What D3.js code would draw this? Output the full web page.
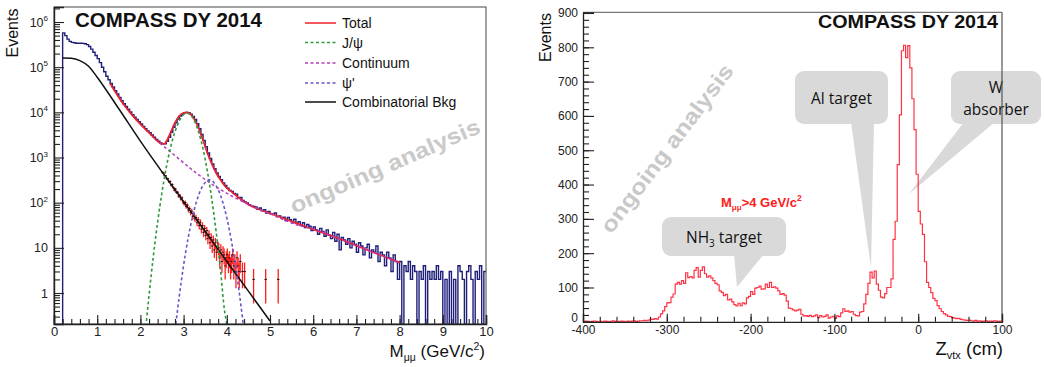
<!DOCTYPE html>
<html><head><meta charset="utf-8">
<script src="https://cdn.jsdelivr.net/npm/d3@7/dist/d3.min.js"></script>
<style>
body{margin:0;background:#fff;}
svg{display:block;font-family:"Liberation Sans",Arial,sans-serif;}
</style></head><body>
<svg id="c" width="1044" height="367"></svg>
<script>
// ---------------- LEFT PANEL DATA (M_mumu spectrum) ----------------
const massBinStart = 0.2, massBinWidth = 0.05;
const dataCounts = [
575000,500000,417000,372000,355000,347000,339000,339000,339000,336000,
331000,316000,288000,251000,214000,182000,155000,126000,100000,79400,
63100,52500,43600,36300,30200,25700,21400,18200,15500,13500,
11700,10200,8910,7760,6920,6170,5500,4900,4370,3890,
3550,3160,2820,2510,2290,2090,2000,2000,2290,2820,
3630,4680,5890,7080,8320,9120,9770,10000,9770,9120,
8130,6920,5620,4370,3240,2400,1740,1260,955,724,
562,457,380,324,275,240,209,186,
178,160,155,128,130,112,104,99,90,86,
83,80,71,76,66,70,59,64,57,55,
59,49,51,46,48,40,47,42,36,43,
35,38,31,36,28,33,30,24,29,25,
20,27,23,18,25,19,16,22,14,20,
9,17,15,12,16,10,14,12,8,13,
11,7,10,12,6,9,8,11,5,8,
7,4,8,6,3,7,5,2,
5,0,4,3,5,2,4,3,0,3,
2,4,0,3,2,3,2,4,2,3,
0,2,0,3,0,2,0,4,3,2,
0,3,4,2,0,3,2,4,0,3];

const likeSignStart = 2.5, likeSignWidth = 0.025;
const likeSignCounts = [
470,455,398,392,340,338,290,296,245,252,
215,190,201,168,170,139,146,121,128,104,
95,101,82,88,69,74,60,65,49,56,
44,47,36,42,31,37,26,31,22,27,
19,24,16,20,13,17,11,15,9,13,
8,11,10,6,9,5,8,7,4,6,
7,5,6,4,5,7,4,5,3,6,
4,3,5,0,3,0,3,0,0,0];
const likeSignExtraMass   = [4.62,4.9,5.19];
const likeSignExtraCounts = [2,2,2];

const bkgMass   = [0.2,0.4,0.6,0.8,1.0,1.5,2.0,2.5,3.0,3.5,4.0,4.5,5.0];
const bkgValues = [1.6e5,1.58e5,1.4e5,1.05e5,6.0e4,1.2e4,2300,480,105,23,5.0,1.1,0.24];

const totalMass   = [1.3,1.4,1.5,1.6,1.7,1.8,1.9,2.0,2.1,2.2,2.3,2.4,2.5,2.55,2.6,2.7,2.8,2.9,3.0,3.08,3.15,3.25,3.35,3.45,3.55,3.65,3.75,3.85,4.0,4.1,4.3,4.5,4.7,5.0,5.4,5.8,6.2,6.6,7.0,7.4,7.8,8.0];
const totalValues = [43600,30200,21400,15500,11700,8910,6920,5500,4370,3550,2820,2290,2000,1990,2250,3600,5900,8300,9770,10000,9300,7000,4400,2400,1260,730,460,325,210,178,123,91,74,58,42,30,22,16,11.2,7.9,5.6,4.7];

const jpsiMass   = [2.14,2.2,2.3,2.4,2.5,2.6,2.7,2.8,2.9,3.0,3.08,3.15,3.25,3.35,3.45,3.55,3.65,3.75,3.85,3.95,4.0];
const jpsiValues = [0.24,0.89,6.6,38,170,610,1700,3700,6500,8900,9550,8950,6500,3600,1550,500,125,24,3.5,0.39,0.12];

const contMass   = [2.45,2.8,3.3,3.7,4.07,4.5,5.0,5.6,6.0,7.0,8.0];
const contValues = [2090,1100,450,240,148,92,57,33,26,11.2,4.7];

const psi2Mass   = [2.82,2.9,3.0,3.1,3.2,3.3,3.4,3.5,3.6,3.7,3.8,3.9,4.0,4.1,4.2,4.3,4.38];
const psi2Values = [0.2,0.85,4.1,15.5,46,107,195,280,320,280,195,107,46,15.5,4.1,0.85,0.2];

const massTicks = [0,1,2,3,4,5,6,7,8,9,10];
const massTickLabels = ["0","1","2","3","4","5","6","7","8","9","10"];
const logTicks = [1,10,100,1e3,1e4,1e5,1e6];
const logTickBase = ["1","10","10","10","10","10","10"];
const logTickExp  = ["","","2","3","4","5","6"];

const legendLabels = ["Total","J/\u03c8","Continuum","\u03c8'","Combinatorial Bkg"];

// ---------------- RIGHT PANEL DATA (Z_vtx) ----------------
const zBinStart = -400, zBinWidth = 2.5;
const zCounts = [
1,2,1,0,1,2,1,0,1,0,2,1,0,1,3,1,0,1,2,1,0,2,1,2,3,1,2,3,
3,4,3,5,8,7,9,8,14,23,32,44,55,56,72,81,110,115,110,120,112,143,129,132,128,
150,158,130,150,160,140,130,134,128,120,112,108,90,86,76,80,64,66,58,50,46,54,47,55,52,70,74,88,80,98,100,104,95,96,110,100,115,100,102,98,90,80,82,78,
60,40,38,35,32,34,36,22,17,18,16,19,15,17,20,12,18,14,16,20,11,14,16,10,17,15,26,38,30,32,28,30,22,18,17,28,30,
52,80,112,145,128,148,110,92,72,70,82,100,100,
125,240,293,458,603,790,806,770,805,740,650,560,430,
322,285,255,175,115,100,85,68,62,47,38,30,24,20,16,15,12,11,9,10,7,6,5,4,5,3,2,4,2,3,1,2,3,1,2,1,3,2,1,2];

const zTicks = [-400,-300,-200,-100,0,100];
const zTickLabels = ["-400","-300","-200","-100","0","100"];
const eventTicks = [0,100,200,300,400,500,600,700,800,900];
const eventTickLabels = ["0","100","200","300","400","500","600","700","800","900"];

// ---------------- DRAWING ----------------
const svg = d3.select("#c");
const dark = "#222";

const xM = d3.scaleLinear().domain([0,10]).range([54,486]);
const yM = d3.scaleLog().domain([0.206,2.15e6]).range([324,7]).clamp(true);
const xZ = d3.scaleLinear().domain([-400,100]).range([583,1002]);
const yZ = d3.scaleLinear().domain([0,902]).range([321.8,12.3]);

const yLog = v => v > 0 ? yM(v) : yM.range()[0];

function histPts(start, w, vals){
  const p = [[start,0]];
  vals.forEach((v,i)=>p.push([start+i*w, v]));
  p.push([start+vals.length*w, vals[vals.length-1]]);
  return p;
}

svg.append("clipPath").attr("id","clipL").append("rect").attr("x",54).attr("y",7).attr("width",432).attr("height",317);
svg.append("clipPath").attr("id","clipR").append("rect").attr("x",583).attr("y",12).attr("width",419).attr("height",310);

// ===== LEFT =====
svg.append("text").attr("transform","translate(388,173) rotate(-23.5)")
  .attr("text-anchor","middle").attr("font-size",22).attr("font-weight","bold")
  .attr("fill","#c9c9c9").attr("textLength",205).attr("lengthAdjust","spacingAndGlyphs")
  .text("ongoing analysis");

const gL = svg.append("g").attr("clip-path","url(#clipL)");

gL.append("path")
  .attr("d", d3.line().x(d=>xM(d[0])).y(d=>yLog(d[1])).curve(d3.curveStepAfter)(histPts(massBinStart, massBinWidth, dataCounts)))
  .attr("fill","none").attr("stroke","#1f1f7a").attr("stroke-width",1.4);

function lsPoint(m, v){
  const e = Math.sqrt(v);
  gL.append("line").attr("x1",xM(m)).attr("x2",xM(m))
    .attr("y1",yLog(v+e)).attr("y2",yLog(Math.max(v-e,0.0001)))
    .attr("stroke","#ff1e1e").attr("stroke-width",1.3);
  gL.append("line").attr("x1",xM(m)-1.2).attr("x2",xM(m)+1.2)
    .attr("y1",yLog(v)).attr("y2",yLog(v)).attr("stroke","#111").attr("stroke-width",1);
}
likeSignCounts.forEach((v,i)=>{ if(v>0) lsPoint(likeSignStart + (i+0.5)*likeSignWidth, v); });
likeSignExtraMass.forEach((m,i)=>lsPoint(m, likeSignExtraCounts[i]));

const curveLine = d3.line().x(d=>xM(d[0])).y(d=>yLog(d[1])).curve(d3.curveMonotoneX);
const zipPts = (a,b)=>a.map((m,i)=>[m,b[i]]);

gL.append("path").attr("d",curveLine(zipPts(bkgMass,bkgValues)))
  .attr("fill","none").attr("stroke","#111").attr("stroke-width",1.5);
gL.append("path").attr("d",curveLine(zipPts(totalMass,totalValues)))
  .attr("fill","none").attr("stroke","#f0202a").attr("stroke-width",1.7);
gL.append("path").attr("d",curveLine(zipPts(contMass,contValues)))
  .attr("fill","none").attr("stroke","#b13ec0").attr("stroke-width",1.5).attr("stroke-dasharray","3,2.5");
gL.append("path").attr("d",curveLine(zipPts(jpsiMass,jpsiValues)))
  .attr("fill","none").attr("stroke","#2f9a3a").attr("stroke-width",1.6).attr("stroke-dasharray","3,2.5");
gL.append("path").attr("d",curveLine(zipPts(psi2Mass,psi2Values)))
  .attr("fill","none").attr("stroke","#6a55c8").attr("stroke-width",1.6).attr("stroke-dasharray","3,2.5");

svg.append("rect").attr("x",54).attr("y",7).attr("width",432).attr("height",317)
  .attr("fill","none").attr("stroke","#444").attr("stroke-width",1);

const gxm = svg.append("g").attr("transform","translate(0,324)")
  .call(d3.axisBottom(xM).tickValues(d3.range(0,10.001,0.2)).tickSize(-5).tickFormat(""));
gxm.select(".domain").remove();
const gx = svg.append("g").attr("transform","translate(0,324)")
  .call(d3.axisBottom(xM).tickValues(massTicks).tickSize(-9).tickPadding(3).tickFormat((d,i)=>massTickLabels[i]));
gx.select(".domain").attr("stroke",dark).attr("stroke-width",1.6);
[gx,gxm].forEach(g=>g.selectAll(".tick line").attr("stroke",dark).attr("stroke-width",1.1));
gx.selectAll("text").attr("font-size",13).attr("fill",dark).attr("font-family","Liberation Sans");

const minorLog = [];
for(let k=-1;k<=6;k++) for(let m=2;m<=9;m++){ const v=m*Math.pow(10,k); if(v>=0.206&&v<=2.15e6) minorLog.push(v); }
const gym = svg.append("g").attr("transform","translate(54,0)")
  .call(d3.axisLeft(yM).tickValues(minorLog).tickSize(-6).tickFormat(""));
gym.select(".domain").remove();
const gy = svg.append("g").attr("transform","translate(54,0)")
  .call(d3.axisLeft(yM).tickValues(logTicks).tickSize(-10).tickFormat(""));
gy.select(".domain").attr("stroke",dark).attr("stroke-width",1.4);
[gy,gym].forEach(g=>g.selectAll(".tick line").attr("stroke",dark).attr("stroke-width",1.1));
logTicks.forEach((v,i)=>{
  const t = svg.append("text").attr("x",48).attr("y",yM(v)+4.5).attr("text-anchor","end")
    .attr("font-size",12.5).attr("fill",dark);
  t.append("tspan").text(logTickBase[i]);
  if(logTickExp[i]) t.append("tspan").attr("font-size",8).attr("dy",-5.5).text(logTickExp[i]);
});

svg.append("text").attr("transform","translate(18,33) rotate(-90)").attr("text-anchor","middle")
  .attr("font-size",16).attr("fill","#111").text("Events");
svg.append("text").attr("x",75).attr("y",27).attr("font-size",19.5).attr("font-weight","bold")
  .attr("fill","#111").attr("textLength",187).attr("lengthAdjust","spacingAndGlyphs").text("COMPASS DY 2014");
const xl = svg.append("text").attr("x",485).attr("y",357).attr("text-anchor","end").attr("font-size",17).attr("fill","#111");
xl.append("tspan").text("M");
xl.append("tspan").attr("font-size",10.5).attr("dy",4).text("\u03bc\u03bc");
xl.append("tspan").attr("dy",-4).text(" (GeV/c");
xl.append("tspan").attr("font-size",10.5).attr("dy",-7).text("2");
xl.append("tspan").attr("dy",7).text(")");

const legStyles = [
  {c:"#f0202a", dash:null},
  {c:"#2f9a3a", dash:"3,2.5"},
  {c:"#b13ec0", dash:"3,2.5"},
  {c:"#6a55c8", dash:"3,2.5"},
  {c:"#111", dash:null}];
const legY = [23,42.5,63,83,102];
svg.append("rect").attr("x",298).attr("y",9).attr("width",174).attr("height",104).attr("fill","#fff");
legendLabels.forEach((lab,i)=>{
  const s = legStyles[i];
  svg.append("line").attr("x1",305).attr("x2",336).attr("y1",legY[i]).attr("y2",legY[i])
    .attr("stroke",s.c).attr("stroke-width",1.5).attr("stroke-dasharray",s.dash);
  svg.append("text").attr("x",342).attr("y",legY[i]+5).attr("font-size",14).attr("fill","#111").text(lab);
});

// ===== RIGHT =====
svg.append("text").attr("transform","translate(673,153) rotate(-53)")
  .attr("text-anchor","middle").attr("font-size",22).attr("font-weight","bold")
  .attr("fill","#c9c9c9").attr("textLength",205).attr("lengthAdjust","spacingAndGlyphs")
  .text("ongoing analysis");

const callFill = "#d9d9d9";
function callout(rx, ry, rw, rh, tri){
  svg.append("rect").attr("x",rx).attr("y",ry).attr("width",rw).attr("height",rh).attr("rx",9).attr("fill",callFill);
  svg.append("polygon").attr("points",tri.map(p=>p.join(",")).join(" ")).attr("fill",callFill);
}
callout(795,71,93,53,[[851,122],[874,122],[871,268]]);
callout(951,71,90,53,[[964,122],[995,122],[909,194]]);
callout(662,217,124,39,[[734,254],[764,254],[737,287]]);
const cf = "'Open Sans','Noto Sans',sans-serif";
svg.append("text").attr("x",841.5).attr("y",104).attr("text-anchor","middle").attr("font-family",cf).attr("font-size",15.5).attr("fill","#111").text("Al target");
svg.append("text").attr("x",996).attr("y",93).attr("text-anchor","middle").attr("font-family",cf).attr("font-size",15.5).attr("fill","#111").text("W");
svg.append("text").attr("x",996).attr("y",115).attr("text-anchor","middle").attr("font-family",cf).attr("font-size",15.5).attr("fill","#111").text("absorber");
const nh = svg.append("text").attr("x",724).attr("y",243).attr("text-anchor","middle").attr("font-family",cf).attr("font-size",15.5).attr("fill","#111");
nh.append("tspan").text("NH");
nh.append("tspan").attr("font-size",10).attr("dy",4).text("3");
nh.append("tspan").attr("dy",-4).text(" target");

const gR = svg.append("g").attr("clip-path","url(#clipR)");
gR.append("path")
  .attr("d", d3.line().x(d=>xZ(d[0])).y(d=>yZ(d[1])).curve(d3.curveStepAfter)(histPts(zBinStart, zBinWidth, zCounts)))
  .attr("fill","none").attr("stroke","#ff3344").attr("stroke-width",1.2);

svg.append("line").attr("x1",583).attr("x2",1002).attr("y1",12.3).attr("y2",12.3).attr("stroke","#555").attr("stroke-width",1);
svg.append("line").attr("x1",1002).attr("x2",1002).attr("y1",12.3).attr("y2",321.8).attr("stroke","#555").attr("stroke-width",1.2);

const gzm = svg.append("g").attr("transform","translate(0,321.8)")
  .call(d3.axisBottom(xZ).tickValues(d3.range(-400,100.1,20)).tickSize(-5).tickFormat(""));
gzm.select(".domain").remove();
const gz = svg.append("g").attr("transform","translate(0,321.8)")
  .call(d3.axisBottom(xZ).tickValues(zTicks).tickSize(-8).tickPadding(4).tickFormat((d,i)=>zTickLabels[i]));
gz.select(".domain").attr("stroke",dark).attr("stroke-width",1.3);
gz.selectAll("text").attr("font-size",12).attr("fill",dark).attr("font-family","Liberation Sans");
const gem = svg.append("g").attr("transform","translate(583,0)")
  .call(d3.axisLeft(yZ).tickValues(d3.range(0,900.1,20)).tickSize(-6).tickFormat(""));
gem.select(".domain").remove();
const ge = svg.append("g").attr("transform","translate(583,0)")
  .call(d3.axisLeft(yZ).tickValues(eventTicks).tickSize(-11).tickPadding(5).tickFormat((d,i)=>eventTickLabels[i]));
ge.select(".domain").attr("stroke",dark).attr("stroke-width",1.3);
ge.selectAll("text").attr("font-size",12).attr("fill",dark).attr("font-family","Liberation Sans")
  .attr("dy",(d)=> d===0 ? "-0.05em" : "0.32em");
[gzm,gz,gem,ge].forEach(g=>g.selectAll(".tick line").attr("stroke",dark).attr("stroke-width",1.1));

svg.append("text").attr("transform","translate(551,37.5) rotate(-90)").attr("text-anchor","middle")
  .attr("font-size",16).attr("fill","#111").text("Events");
svg.append("text").attr("x",998).attr("y",28).attr("text-anchor","end").attr("font-size",18.5).attr("font-weight","bold")
  .attr("fill","#111").attr("textLength",180).attr("lengthAdjust","spacingAndGlyphs").text("COMPASS DY 2014");
const zl = svg.append("text").attr("x",1003).attr("y",355).attr("text-anchor","end").attr("font-size",18.5).attr("fill","#111");
zl.append("tspan").text("Z");
zl.append("tspan").attr("font-size",11).attr("dy",4).text("vtx");
zl.append("tspan").attr("dy",-4).text(" (cm)");
const ml = svg.append("text").attr("x",721).attr("y",207).attr("font-size",13).attr("font-weight","bold").attr("fill","#ff1a1a");
ml.append("tspan").text("M");
ml.append("tspan").attr("font-size",8).attr("dy",3).text("\u03bc\u03bc");
ml.append("tspan").attr("dy",-3).text(">4 GeV/c");
ml.append("tspan").attr("font-size",8.5).attr("dy",-6).text("2");
</script>
</body></html>
